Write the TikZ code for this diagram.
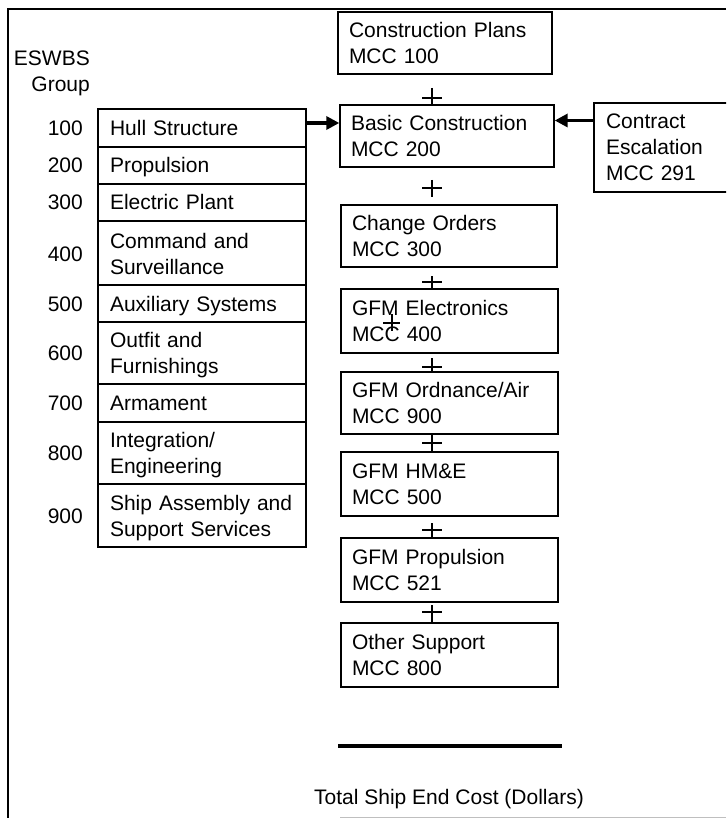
\documentclass[tikz,border=0pt]{standalone}
\usepackage{fontspec}
\setmainfont{Liberation Sans}
\usetikzlibrary{arrows.meta}
\begin{document}
\begin{tikzpicture}[x=1pt,y=-1pt,
  every node/.style={font=\fontsize{21}{26}\selectfont, inner sep=0pt},
  cbox/.style={draw, line width=1.4pt, rectangle, align=left, inner xsep=11pt, inner ysep=0pt, anchor=center},
  sbox/.style={draw, line width=1.7pt, rectangle, align=left, inner xsep=12pt, inner ysep=0pt, anchor=center, text width=184pt},
  lone/.style={text height=15pt, text depth=0pt},
  ltwo/.style={text height=15pt, text depth=26pt},
  lthree/.style={text height=15pt, text depth=52pt},
  num/.style={anchor=east, lone},
  arr/.style={line width=3.2pt, -{Triangle[length=13pt,width=13pt]}},
  plusline/.style={line width=1.3pt},
]
\useasboundingbox (0,0) rectangle (726,818);
\clip (0,0) rectangle (726,818);

% frame
\draw[line width=1.6pt] (726,9) -- (8,9) -- (8,818);
\draw[gray!50, line width=1pt] (340,817) -- (726,817);

% ESWBS heading
\node[anchor=east, align=right] (eswbs) at (90,73) {ESWBS\\Group};

% left stack
\node[sbox, lone, minimum height=38pt] (s1) at (202,128) {Hull Structure};
\node[sbox, lone, minimum height=37pt] (s2) at (202,165.5) {Propulsion};
\node[sbox, lone, minimum height=37pt] (s3) at (202,202.5) {Electric Plant};
\node[sbox, ltwo, minimum height=64pt] (s4) at (202,253.5) {Command and\\Surveillance};
\node[sbox, lone, minimum height=37pt] (s5) at (202,303.5) {Auxiliary Systems};
\node[sbox, ltwo, minimum height=62pt] (s6) at (202,353) {Outfit and\\Furnishings};
\node[sbox, lone, minimum height=38pt] (s7) at (202,403) {Armament};
\node[sbox, ltwo, minimum height=62pt] (s8) at (202,453) {Integration/\\Engineering};
\node[sbox, ltwo, minimum height=63pt] (s9) at (202,515.5) {Ship Assembly and\\Support Services};

\node[num] (n1) at (83,128) {100};
\node[num] (n2) at (83,165.5) {200};
\node[num] (n3) at (83,202.5) {300};
\node[num] (n4) at (83,253.5) {400};
\node[num] (n5) at (83,303.5) {500};
\node[num] (n6) at (83,353) {600};
\node[num] (n7) at (83,403) {700};
\node[num] (n8) at (83,453) {800};
\node[num] (n9) at (83,515.5) {900};

% right column
\node[cbox, ltwo, text width=192pt, minimum height=62pt] (cp) at (445,43) {Construction Plans\\MCC 100};
\node[cbox, ltwo, text width=192pt, minimum height=62pt] (bc) at (447,136) {Basic Construction\\MCC 200};
\node[cbox, ltwo, text width=194pt, minimum height=62pt] (co) at (449,236) {Change Orders\\MCC 300};
\node[cbox, ltwo, text width=195pt, minimum height=64pt] (ge) at (449.5,321) {GFM Electronics\\MCC 400};
\node[cbox, ltwo, text width=195pt, minimum height=62pt] (go) at (449.5,403) {GFM Ordnance/Air\\MCC 900};
\node[cbox, ltwo, text width=195pt, minimum height=64pt] (gh) at (449.5,484) {GFM HM\&E\\MCC 500};
\node[cbox, ltwo, text width=195pt, minimum height=64pt] (gp) at (449.5,570) {GFM Propulsion\\MCC 521};
\node[cbox, ltwo, text width=195pt, minimum height=64pt] (os) at (449.5,655) {Other Support\\MCC 800};

\node[cbox, lthree, inner xsep=12pt, text width=140pt, minimum height=89pt] (esc) at (676,147.5) {Contract\\Escalation\\MCC 291};

% arrows
\draw[arr] ([yshift=5pt]s1.east) -- ([yshift=5pt]s1.east -| bc.west);
\draw[arr] ([yshift=27pt]esc.west) -- ([yshift=27pt]esc.west -| bc.east);

% plus signs
\draw[plusline] (422,98) -- (442,98) (432,88) -- (432,105);
\draw[plusline] (422,188) -- (442,188) (432,180) -- (432,197);
\draw[plusline] (422,282) -- (442,282) (432,276) -- (432,289);
\draw[plusline] (383,323) -- (400,323) (392,314) -- (392,331);
\draw[plusline] (422,367) -- (442,367) (432,358) -- (432,372);
\draw[plusline] (422,443) -- (442,443) (432,435) -- (432,452);
\draw[plusline] (422,530) -- (442,530) (432,523) -- (432,538);
\draw[plusline] (422,612) -- (442,612) (432,605) -- (432,623);

% total
\draw[line width=4.5pt] (338,746) -- (562,746);
\node[lone] (total) at (449,797) {Total Ship End Cost (Dollars)};
\end{tikzpicture}
\end{document}
